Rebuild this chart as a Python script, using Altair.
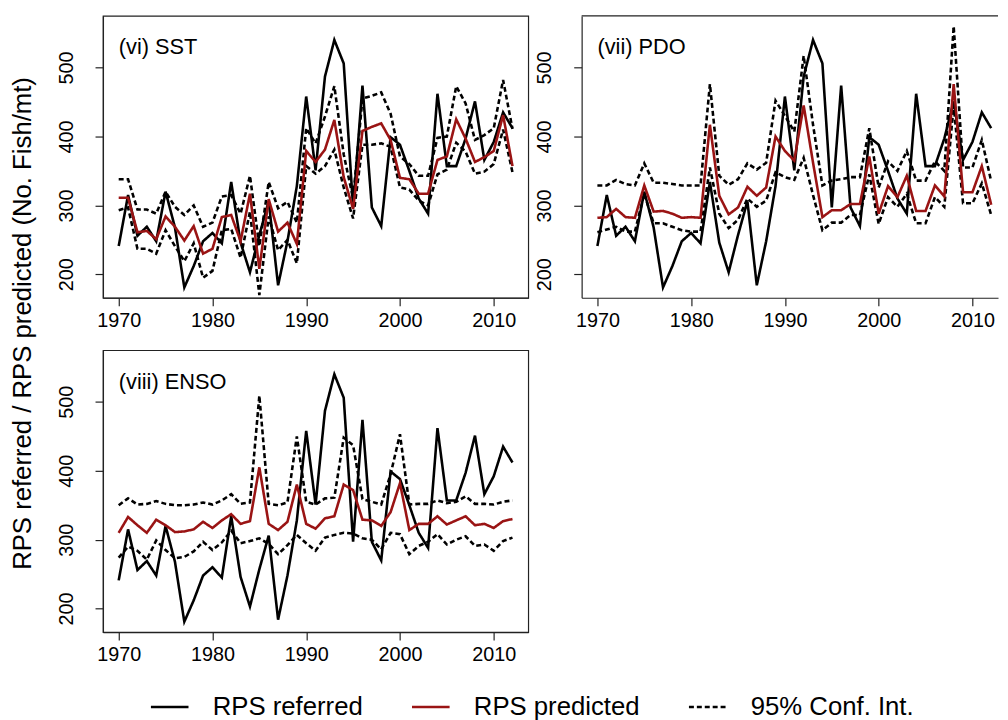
import altair as alt
import pandas as pd

years = list(range(1970, 2013))

referred = [241, 315, 256, 269, 248, 320, 268, 181, 212, 248,
            260, 245, 334, 246, 203, 257, 306, 184, 248, 328,
            458, 351, 487, 540, 506, 297, 474, 297, 270, 399,
            388, 350, 310, 288, 462, 357, 357, 397, 451, 366,
            392, 435, 412]

sst_pred = [311, 311, 261, 263, 251, 284, 269, 249, 270, 230,
            237, 283, 286, 248, 317, 208, 309, 262, 275, 244,
            379, 363, 381, 424, 341, 295, 408, 414, 419, 395,
            340, 338, 317, 317, 366, 371, 425, 397, 363, 370,
            379, 431, 357]
sst_upper = [338, 338, 294, 294, 288, 320, 298, 286, 300, 269,
             275, 313, 315, 288, 343, 241, 334, 296, 305, 275,
             412, 390, 429, 473, 374, 310, 455, 459, 464, 433,
             371, 360, 343, 343, 398, 400, 473, 448, 395, 402,
             412, 482, 411]
sst_lower = [293, 297, 237, 237, 230, 264, 241, 219, 245, 195,
             205, 264, 266, 224, 291, 170, 284, 235, 250, 216,
             357, 346, 357, 381, 326, 281, 388, 388, 390, 385,
             326, 323, 307, 300, 345, 352, 391, 378, 346, 349,
             360, 410, 348]

pdo_pred = [282, 283, 295, 283, 282, 329, 291, 292, 288, 282,
            283, 282, 417, 314, 287, 297, 327, 314, 326, 400,
            379, 365, 445, 362, 283, 293, 293, 302, 302, 371,
            288, 328, 312, 343, 292, 292, 329, 313, 476, 319,
            319, 357, 301]
pdo_upper = [329, 329, 337, 331, 329, 361, 333, 333, 331, 329,
             329, 329, 476, 343, 330, 338, 361, 352, 362, 452,
             430, 407, 517, 417, 329, 336, 338, 341, 341, 412,
             326, 364, 350, 379, 336, 336, 364, 350, 560, 355,
             355, 395, 335]
pdo_lower = [261, 265, 269, 262, 262, 317, 274, 274, 269, 264,
             262, 262, 355, 288, 267, 279, 310, 298, 307, 348,
             341, 337, 369, 315, 264, 275, 275, 286, 286, 345,
             273, 312, 298, 317, 274, 274, 312, 298, 445, 303,
             303, 332, 286]

enso_pred = [310, 333, 321, 310, 329, 321, 311, 312, 315, 326,
             317, 328, 337, 323, 327, 405, 323, 314, 326, 380,
             323, 316, 331, 334, 380, 372, 329, 328, 320, 340,
             382, 314, 323, 323, 334, 322, 328, 334, 321, 323,
             317, 327, 330]
enso_upper = [350, 360, 351, 352, 356, 352, 350, 350, 351, 354,
              351, 357, 366, 352, 354, 509, 352, 350, 354, 450,
              355, 351, 360, 361, 448, 437, 359, 355, 351, 395,
              453, 351, 352, 352, 357, 353, 355, 363, 352, 352,
              351, 355, 357]
enso_lower = [274, 290, 284, 271, 299, 285, 273, 275, 283, 297,
              285, 296, 313, 295, 298, 302, 294, 279, 292, 307,
              295, 284, 303, 307, 310, 309, 302, 300, 286, 310,
              308, 279, 291, 297, 308, 293, 300, 305, 291, 293,
              284, 298, 303]

panel_labels = ["(vi) SST", "(vii) PDO", "(viii) ENSO"]
series_names = ["RPS referred", "RPS predicted", "95% Conf. Int."]
y_title = "RPS referred / RPS predicted (No. Fish/mt)"
x_ticks = [1970, 1980, 1990, 2000, 2010]
y_ticks = [200, 300, 400, 500]

FONT = "Liberation Sans"
COLORS = ["#000000", "#9a1414", "#000000"]
DASHES = [[1, 0], [1, 0], [5, 3]]
WIDTHS = [2.6, 2.6, 1.2]


def make_df(pred, upper, lower):
    rows = []
    for i, yr in enumerate(years):
        rows.append(dict(year=yr, value=referred[i], series=series_names[0], line="ref"))
        rows.append(dict(year=yr, value=pred[i], series=series_names[1], line="pred"))
        rows.append(dict(year=yr, value=upper[i], series=series_names[2], line="upper"))
        rows.append(dict(year=yr, value=lower[i], series=series_names[2], line="lower"))
    return pd.DataFrame(rows)


legend = alt.Legend(
    title=None, orient="none", legendX=47, legendY=678, direction="horizontal",
    columns=3, symbolType="stroke", symbolSize=1444, labelFontSize=26,
    labelFont=FONT, labelColor="black", columnPadding=44, labelOffset=23,
    labelLimit=400, padding=0,
)

x_axis = alt.Axis(values=x_ticks, format="d", title=None, grid=False, tickSize=8,
                  labelPadding=5, labelFlush=False)
y_axis = alt.Axis(values=y_ticks, title=None, grid=False, tickSize=8, labelAngle=270,
                  labelAlign="center", labelBaseline="bottom", labelPadding=19,
                  labelFlush=False)


def panel(df, label, width, xmax, boxed=True, with_title=False):
    xs = alt.Scale(domain=[1968.32, xmax], nice=False, zero=False)
    ys = alt.Scale(domain=[166, 575], nice=False, zero=False)
    base = alt.Chart(df).mark_line(clip=True).encode(
        x=alt.X("year:Q", scale=xs, axis=x_axis),
        y=alt.Y("value:Q", scale=ys, axis=y_axis),
        color=alt.Color("series:N", scale=alt.Scale(domain=series_names, range=COLORS), legend=legend),
        strokeDash=alt.StrokeDash("series:N", scale=alt.Scale(domain=series_names, range=DASHES), legend=legend),
        strokeWidth=alt.StrokeWidth("series:N", scale=alt.Scale(domain=series_names, range=WIDTHS), legend=legend),
        detail="line:N",
    )
    layers = [base.transform_filter(alt.datum.series == s)
              for s in [series_names[2], series_names[0], series_names[1]]]
    lab = alt.Chart(pd.DataFrame({"t": [label]})).mark_text(
        align="left", baseline="middle", fontSize=22, font=FONT, color="black"
    ).encode(x=alt.value(16), y=alt.value(32), text="t:N")
    layers.append(lab)
    if not boxed:
        top_line = alt.Chart(pd.DataFrame({"t": [label]})).mark_rule(
            color="#222222", strokeWidth=1.2
        ).encode(x=alt.value(0), x2=alt.value(width), y=alt.value(0))
        layers.append(top_line)
    if with_title:
        ttl = alt.Chart(pd.DataFrame({"t": [y_title]})).mark_text(
            angle=270, align="center", baseline="middle", fontSize=26, font=FONT, color="black"
        ).encode(x=alt.value(-81), y=alt.value(311), text="t:N")
        layers.append(ttl)
    ch = alt.layer(*layers).properties(width=width, height=285)
    if not boxed:
        ch = ch.properties(view=alt.ViewBackground(stroke="transparent"))
    return ch


p1 = panel(make_df(sst_pred, sst_upper, sst_lower), panel_labels[0], 430, 2013.68, True, True)
p2 = panel(make_df(pdo_pred, pdo_upper, pdo_lower), panel_labels[1], 421, 1968.32 + 421 / 9.48, False)
p3 = panel(make_df(enso_pred, enso_upper, enso_lower), panel_labels[2], 430, 2013.68, True)

chart = alt.concat(
    p1, p2, p3, columns=2, bounds="flush",
    spacing=alt.RowColnumber(row=53, column=54),
).resolve_scale(
    color="shared", strokeDash="shared", strokeWidth="shared"
).properties(
    padding={"left": 1, "top": 2, "right": 0, "bottom": 0}
).configure_view(
    stroke="#222222", strokeWidth=1.2
).configure_axis(
    labelFont=FONT, labelFontSize=20, labelColor="black", tickColor="#222222",
    domainColor="#222222", domainWidth=1.2, tickWidth=1.2
)

chart.save("out.html", embed_options={"renderer": "svg", "actions": False})
